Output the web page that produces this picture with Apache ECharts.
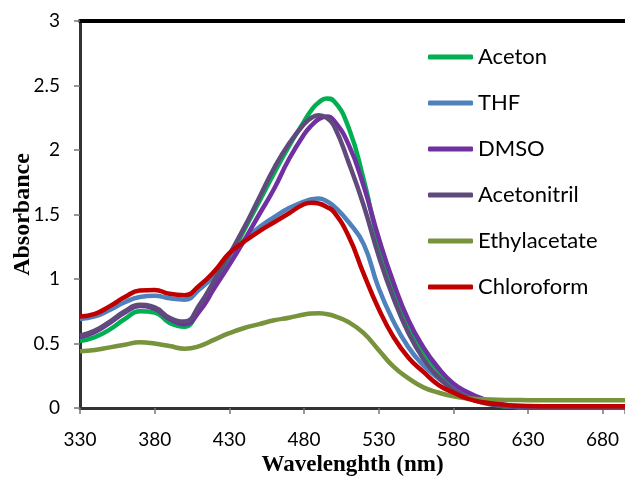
<!DOCTYPE html>
<html>
<head>
<meta charset="utf-8">
<script src="https://cdn.jsdelivr.net/npm/echarts@6/dist/echarts.min.js"></script>
<style>
html,body{margin:0;padding:0;background:#fff;}
#chart{width:625px;height:477px;}
</style>
</head>
<body>
<div id="chart"></div>
<script>
const wavelengths = [330,340,350,360,370,380,390,400,410,420,430,440,450,460,470,480,485,490,495,500,510,520,530,540,550,560,570,580,590,600,610,620,630,640,650,660,670,680,690,695];

const aceton = [0.52,0.55,0.61,0.69,0.75,0.74,0.66,0.63,0.78,0.96,1.16,1.38,1.60,1.82,2.03,2.22,2.31,2.37,2.40,2.38,2.17,1.77,1.28,0.93,0.65,0.44,0.29,0.17,0.10,0.05,0.02,0.01,0.005,0.004,0.004,0.004,0.004,0.004,0.004,0.004];
const thf = [0.69,0.71,0.76,0.82,0.86,0.87,0.85,0.84,0.92,1.03,1.18,1.30,1.40,1.48,1.55,1.60,1.618,1.625,1.605,1.565,1.44,1.27,0.93,0.67,0.47,0.33,0.23,0.15,0.09,0.05,0.025,0.01,0.005,0.004,0.004,0.004,0.004,0.004,0.004,0.004];
const dmso = [0.55,0.59,0.66,0.74,0.79,0.77,0.69,0.65,0.75,0.93,1.11,1.30,1.50,1.70,1.93,2.12,2.19,2.24,2.26,2.23,2.04,1.72,1.32,0.97,0.68,0.47,0.31,0.19,0.12,0.07,0.035,0.015,0.006,0.004,0.004,0.004,0.004,0.004,0.004,0.004];
const acetonitril = [0.56,0.60,0.67,0.75,0.80,0.78,0.70,0.67,0.80,0.99,1.19,1.40,1.63,1.86,2.05,2.20,2.25,2.27,2.25,2.19,1.90,1.57,1.18,0.85,0.58,0.38,0.24,0.14,0.08,0.04,0.02,0.01,0.004,0.004,0.004,0.004,0.004,0.004,0.004,0.004];
const ethylacetate = [0.44,0.45,0.47,0.49,0.51,0.50,0.48,0.46,0.48,0.53,0.58,0.62,0.65,0.68,0.70,0.725,0.733,0.735,0.728,0.715,0.665,0.58,0.45,0.32,0.23,0.16,0.12,0.09,0.075,0.067,0.063,0.062,0.061,0.06,0.06,0.06,0.06,0.06,0.06,0.06];
const chloroform = [0.71,0.73,0.79,0.86,0.91,0.915,0.885,0.875,0.95,1.06,1.20,1.29,1.37,1.44,1.51,1.58,1.592,1.585,1.56,1.52,1.33,1.04,0.77,0.55,0.39,0.28,0.18,0.12,0.07,0.045,0.03,0.02,0.015,0.014,0.014,0.014,0.014,0.014,0.014,0.014];

const seriesNames = ['Aceton','THF','DMSO','Acetonitril','Ethylacetate','Chloroform'];
const seriesValues = [aceton, thf, dmso, acetonitril, ethylacetate, chloroform];
const seriesColors = ['#00B050','#4F81BD','#7030A0','#604A7B','#77933C','#C00000'];
const xTicks = [330,380,430,480,530,580,630,680];

const chart = echarts.init(document.getElementById('chart'), null, {renderer:'canvas'});
const series = seriesNames.map((name, i) => ({
  name: name,
  type: 'line',
  smooth: 0.5,
  symbol: 'none',
  data: wavelengths.map((w, j) => [w, seriesValues[i][j]]),
  lineStyle: {color: seriesColors[i], width: 4.5},
  itemStyle: {color: seriesColors[i]},
  xAxisIndex: 0,
  yAxisIndex: 0
}));

chart.setOption({
  animation: false,
  backgroundColor: '#fff',
  grid: {left: 80, right: 0, top: 21, bottom: 69, containLabel: false, outerBoundsMode: 'none'},
  legend: {
    orient: 'vertical',
    left: 423,
    top: 40,
    icon: 'roundRect',
    itemWidth: 45,
    itemHeight: 5,
    itemGap: 22,
    textStyle: {fontFamily: 'Lato', fontSize: 22, color: '#000', lineHeight: 24},
    data: seriesNames
  },
  xAxis: [{
    type: 'value',
    min: 330,
    max: 695,
    interval: 50,
    position: 'bottom',
    name: 'Wavelenghth (nm)',
    nameLocation: 'middle',
    nameGap: 46,
    nameMoveOverlap: false,
    nameTextStyle: {fontFamily: 'Liberation Serif', fontWeight: 'bold', fontSize: 23, color: '#000'},
    axisLine: {show: true, onZero: false, lineStyle: {color: '#333', width: 3}},
    axisTick: {show: true, length: 6, lineStyle: {color: '#777', width: 1.5}},
    axisLabel: {
      margin: 22,
      fontFamily: 'Lato', fontSize: 19, color: '#000',
      formatter: v => (xTicks.indexOf(v) >= 0 ? String(v) : '')
    },
    splitLine: {show: false}
  }, {
    type: 'value',
    min: 330,
    max: 695,
    position: 'top',
    axisLine: {show: true, onZero: false, lineStyle: {color: '#000', width: 4}},
    axisTick: {show: false},
    axisLabel: {show: false},
    splitLine: {show: false}
  }],
  yAxis: {
    type: 'value',
    min: 0,
    max: 3,
    interval: 0.5,
    name: 'Absorbance',
    nameLocation: 'middle',
    nameGap: 45,
    nameMoveOverlap: false,
    nameTextStyle: {fontFamily: 'Liberation Serif', fontWeight: 'bold', fontSize: 24, color: '#000'},
    axisLine: {show: true, lineStyle: {color: '#333', width: 3}},
    axisTick: {show: true, length: 6, lineStyle: {color: '#777', width: 1.5}},
    axisLabel: {margin: 20, fontFamily: 'Lato', fontSize: 19, color: '#000'},
    splitLine: {show: false}
  },
  series: series
});
</script>
</body>
</html>
